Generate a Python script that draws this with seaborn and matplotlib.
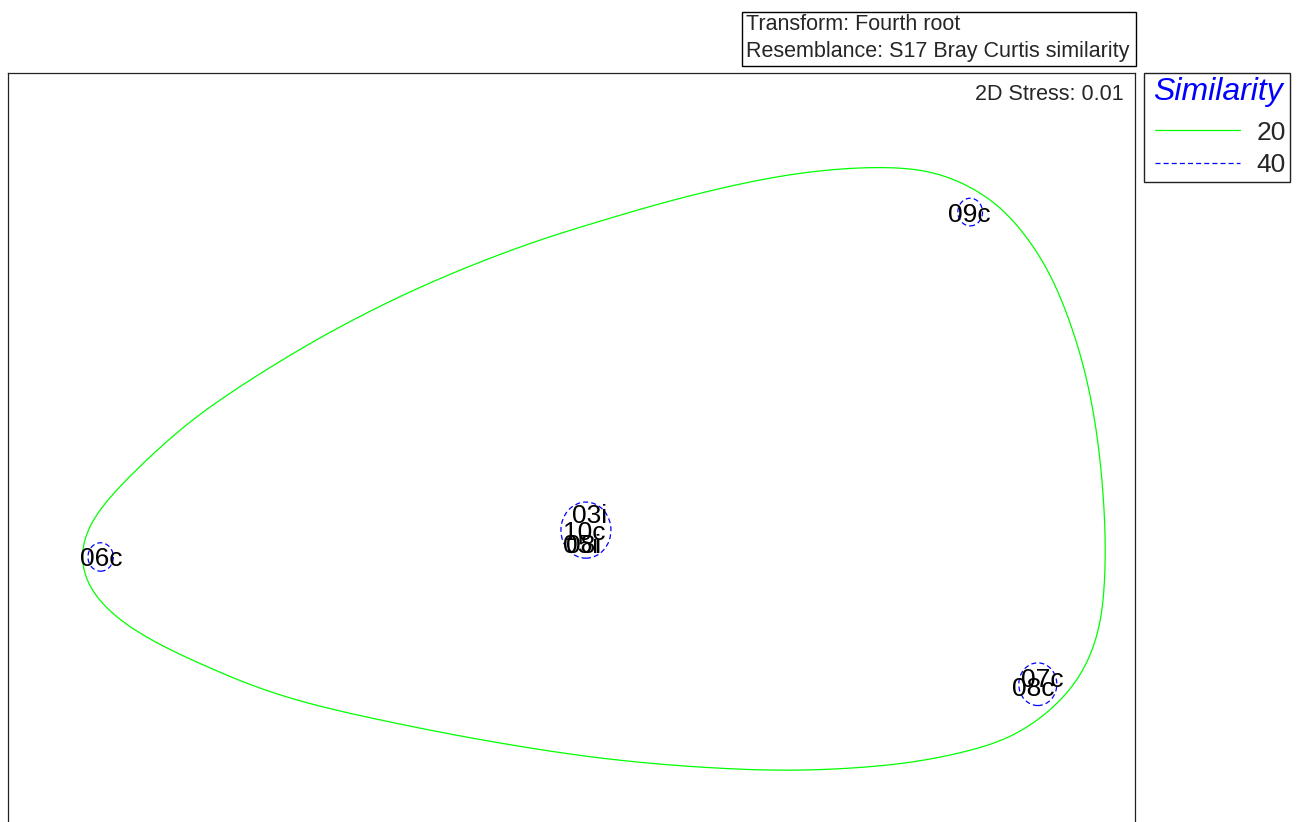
import numpy as np
import pandas as pd
import matplotlib
matplotlib.use("Agg")
import matplotlib.pyplot as plt
from matplotlib.patches import Circle, Rectangle
from matplotlib.lines import Line2D
import seaborn as sns

# nMDS ordination of samples (2D configuration)
sample_labels = ["09c", "06c", "03i", "10c", "05i", "08i", "07c", "08c"]
mds1 = [1.129, -1.336, 0.052, 0.035, 0.027, 0.033, 1.336, 1.310]
mds2 = [0.648, -0.225, -0.116, -0.159, -0.190, -0.192, -0.529, -0.552]

# 40% similarity groups (cluster outlines)
group40_x = [1.132, -1.337, 0.041, 1.324]
group40_y = [0.648, -0.225, -0.157, -0.547]
group40_r = [0.035, 0.036, 0.071, 0.054]

# 20% similarity outline (control points around all samples)
contour20_x = [0.884, 1.026, 1.109, 1.202, 1.273, 1.350, 1.393, 1.452, 1.492,
               1.515, 1.515, 1.500, 1.452, 1.407, 1.339, 1.245, 1.075, 0.933,
               0.649, 0.365, 0.081, -0.203, -0.487, -0.771, -0.927, -1.026,
               -1.168, -1.285, -1.366, -1.400, -1.400, -1.366, -1.285, -1.168,
               -1.075, -0.913, -0.686, -0.430, -0.146, 0.081, 0.365, 0.649]
contour20_y = [0.762, 0.752, 0.724, 0.676, 0.610, 0.509, 0.425, 0.268, 0.089,
               -0.139, -0.276, -0.413, -0.521, -0.575, -0.630, -0.684, -0.727,
               -0.749, -0.765, -0.757, -0.734, -0.696, -0.648, -0.590, -0.544,
               -0.506, -0.448, -0.385, -0.316, -0.251, -0.200, -0.132, -0.048,
               0.053, 0.124, 0.223, 0.344, 0.458, 0.560, 0.625, 0.696, 0.747]

similarity_levels = ["20", "40"]
stress_text = "2D Stress: 0.01"
header_lines = ["Transform: Fourth root", "Resemblance: S17 Bray Curtis similarity"]

GREEN = "#00ff00"
BLUE = "#0000ff"


def closed_catmull_rom(xs, ys, n=30):
    """Centripetal Catmull-Rom spline through a closed ring of points."""
    P = np.column_stack([xs, ys]).astype(float)
    N = len(P)
    pieces = []
    for i in range(N):
        p0, p1, p2, p3 = P[(i - 1) % N], P[i], P[(i + 1) % N], P[(i + 2) % N]
        t0 = 0.0
        t1 = t0 + np.linalg.norm(p1 - p0) ** 0.5
        t2 = t1 + np.linalg.norm(p2 - p1) ** 0.5
        t3 = t2 + np.linalg.norm(p3 - p2) ** 0.5
        t = np.linspace(t1, t2, n, endpoint=False)[:, None]
        a1 = (t1 - t) / (t1 - t0) * p0 + (t - t0) / (t1 - t0) * p1
        a2 = (t2 - t) / (t2 - t1) * p1 + (t - t1) / (t2 - t1) * p2
        a3 = (t3 - t) / (t3 - t2) * p2 + (t - t2) / (t3 - t2) * p3
        b1 = (t2 - t) / (t2 - t0) * a1 + (t - t0) / (t2 - t0) * a2
        b2 = (t3 - t) / (t3 - t1) * a2 + (t - t1) / (t3 - t1) * a3
        pieces.append((t2 - t) / (t2 - t1) * b1 + (t - t1) / (t2 - t1) * b2)
    return np.vstack(pieces)


def resample_and_smooth(curve, n=1600, sigma=14):
    """Even arc-length resampling of a closed curve, then circular Gaussian smoothing."""
    closed = np.vstack([curve, curve[:1]])
    seg = np.linalg.norm(np.diff(closed, axis=0), axis=1)
    s = np.concatenate([[0], np.cumsum(seg)])
    u = np.linspace(0, s[-1], n, endpoint=False)
    pts = np.column_stack([np.interp(u, s, closed[:, 0]), np.interp(u, s, closed[:, 1])])
    k = np.arange(-4 * sigma, 4 * sigma + 1)
    w = np.exp(-0.5 * (k / sigma) ** 2)
    w /= w.sum()
    sm = np.zeros_like(pts)
    for off, wt in zip(k, w):
        sm += wt * np.roll(pts, off, axis=0)
    sm = np.vstack([sm, sm[:1]])
    return sm[:, 0], sm[:, 1]


sns.set_style("white")
plt.rcParams["font.family"] = ["Liberation Sans", "DejaVu Sans"]

W, H = 1300, 822
fig = plt.figure(figsize=(W / 100, H / 100), dpi=100)


def fx(px):
    return px / W


def fy(py):
    return 1 - py / H


ax = fig.add_axes([fx(8), fy(830), fx(1135) - fx(8), fy(73) - fy(830)])
ax.set_xlim(-1.6, 1.6)
ax.set_ylim(-0.916, 1.0)
ax.set_xticks([])
ax.set_yticks([])
for s in ax.spines.values():
    s.set_color("#222222")
    s.set_linewidth(0.9)

# 20% similarity outline
cx, cy = resample_and_smooth(closed_catmull_rom(contour20_x, contour20_y))
outline = pd.DataFrame({"x": cx, "y": cy})
sns.lineplot(data=outline, x="x", y="y", sort=False, estimator=None,
             color=GREEN, linewidth=0.9, ax=ax)

# 40% similarity groups
for gx, gy, gr in zip(group40_x, group40_y, group40_r):
    ax.add_patch(Circle((gx, gy), gr, fill=False, edgecolor=BLUE,
                        linewidth=0.9, linestyle=(0, (4, 2.5))))

# sample labels
for lab, x, y in zip(sample_labels, mds1, mds2):
    ax.text(x, y, lab, ha="center", va="center_baseline", fontsize=19,
            color="black")

ax.set_xlabel("")
ax.set_ylabel("")

# stress annotation
fig.text(fx(1124), fy(94), stress_text, ha="right", va="center", fontsize=15.5)

# header box
fig.patches.append(Rectangle((fx(742), fy(66)), fx(1136) - fx(742), fy(12) - fy(66),
                             transform=fig.transFigure, fill=False,
                             edgecolor="black", linewidth=1.0))
fig.text(fx(746), fy(24), header_lines[0], ha="left", va="center", fontsize=15.5)
fig.text(fx(746), fy(51), header_lines[1], ha="left", va="center", fontsize=15.5)

# similarity key
fig.patches.append(Rectangle((fx(1144), fy(182)), fx(1290) - fx(1144), fy(73) - fy(182),
                             transform=fig.transFigure, fill=False,
                             edgecolor="#222222", linewidth=1.0))
fig.text(fx(1218), fy(92), "Similarity", ha="center", va="center",
         fontsize=23, style="italic", color=BLUE)
key_styles = [dict(color=GREEN, linestyle="-"),
              dict(color=BLUE, linestyle=(0, (4, 2.5)))]
for i, (lvl, st) in enumerate(zip(similarity_levels, key_styles)):
    yy = 130 + 33 * i
    fig.lines.append(Line2D([fx(1155), fx(1240)], [fy(yy), fy(yy)],
                            transform=fig.transFigure, linewidth=0.9, **st))
    fig.text(fx(1286), fy(yy), lvl, ha="right", va="center_baseline", fontsize=19)

fig.savefig("out.png", dpi=100)
